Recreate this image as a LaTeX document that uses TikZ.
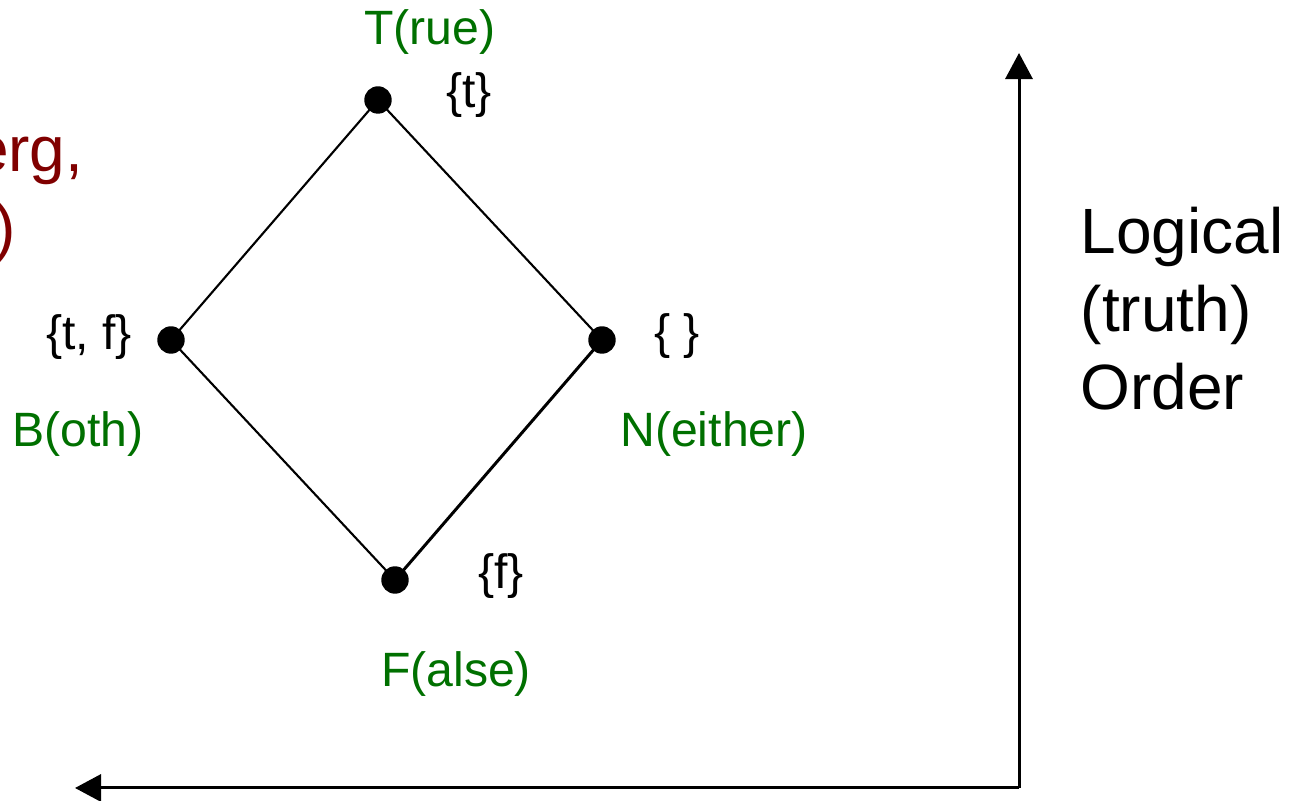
\documentclass[tikz,border=0pt]{standalone}
\usepackage{fontspec}
\setmainfont{Liberation Sans}
\usetikzlibrary{arrows.meta}
\definecolor{lblgreen}{RGB}{0,112,0}
\definecolor{darkred}{RGB}{128,0,0}
\tikzset{
  dotnode/.style={circle,fill=black,inner sep=0pt,minimum size=7.8pt},
  latline/.style={line width=0.6pt},
  axisline/.style={line width=0.85pt,-{Triangle[length=7.4pt,width=7.7pt]}},
  setlbl/.style={anchor=base,inner sep=0pt,font=\fontsize{13.7pt}{16pt}\selectfont},
  namelbl/.style={anchor=base,inner sep=0pt,text=lblgreen,font=\fontsize{13.7pt}{16pt}\selectfont},
  biglbl/.style={anchor=base west,inner sep=0pt,align=left,font=\fontsize{18.2pt}{22.3pt}\selectfont},
  redlbl/.style={anchor=base east,inner sep=0pt,text=darkred,font=\fontsize{18.2pt}{22pt}\selectfont}
}
\begin{document}
\begin{tikzpicture}[x=0.01cm,y=-0.01cm]
\useasboundingbox (0,0) rectangle (1299,801);
% lattice points
\node[dotnode] (T) at (378,100) {};
\node[dotnode] (B) at (171,340) {};
\node[dotnode] (N) at (602,340) {};
\node[dotnode] (F) at (395,580) {};
\draw[latline] (T.center) -- (B.center);
\draw[latline] (T.center) -- (N.center);
\draw[latline] (B.center) -- (F.center);
\draw[line width=0.85pt] (F.center) -- (N.center);
% set labels
\node[setlbl] (st) at (469,108) {\{t\}};
\node[setlbl] (stf) at (89,350) {\{t, f\}};
\node[setlbl] (se) at (677,349) {\{ \}};
\node[setlbl] (sf) at (501,589) {\{f\}};
% names
\node[namelbl] (nT) at (430,45) {T(rue)};
\node[namelbl] (nB) at (78,447) {B(oth)};
\node[namelbl] (nN) at (714,447) {N(either)};
\node[namelbl] (nF) at (456,687) {F(alse)};
% axes
\coordinate (corner) at (1019,788);
\coordinate (top) at (1019,53);
\coordinate (left) at (75,788);
\draw[axisline] (corner) -- (top);
\draw[axisline] (corner) -- (left);
% axis label
\node[biglbl] (lab) at (1080,410) {Logical\\(truth)\\Order};
% cut-off dark red text
\begin{scope}
\clip (0,0) rectangle (1299,801);
\node[redlbl] (r1) at (84,172) {erg,};
\node[redlbl] (r2) at (17,250) {)};
\end{scope}
\end{tikzpicture}
\end{document}
